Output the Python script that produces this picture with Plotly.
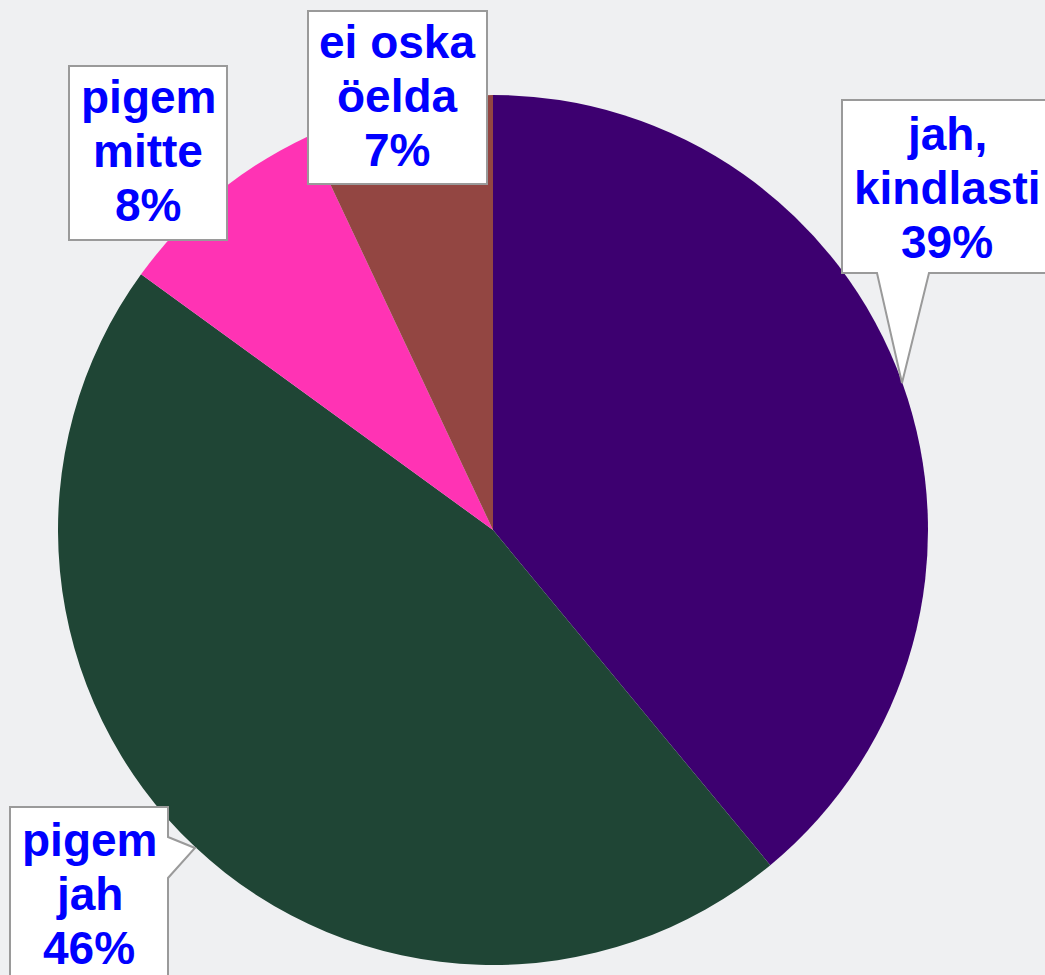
import plotly.graph_objects as go

# Data
categories = ["jah, kindlasti", "pigem jah", "pigem mitte", "ei oska öelda"]
values = [39, 46, 8, 7]
colors = ["#3D0070", "#1F4535", "#FF33B4", "#934642"]
label_lines = [["jah,", "kindlasti", "39%"],
               ["pigem", "jah", "46%"],
               ["pigem", "mitte", "8%"],
               ["ei oska", "öelda", "7%"]]

W, H = 1045, 975


def px(x):
    return x / W


def py(y):
    return 1 - y / H


fig = go.Figure()
fig.add_trace(go.Pie(
    labels=categories, values=values, sort=False, direction="clockwise",
    rotation=0, marker=dict(colors=colors, line=dict(width=0)),
    textinfo="none", hoverinfo="label+percent", showlegend=False,
    domain=dict(x=[58 / W, 928 / W], y=[py(965), py(95)]),
))

# Callout boxes (layout decoration, pixel positions converted to paper)
boxes = [
    # jah, kindlasti: box with pointer down to the slice
    [(842, 100), (1060, 100), (1060, 273), (929, 273), (902, 383), (877, 273), (842, 273)],
    # pigem jah: box with pointer to the right
    [(10, 807), (168, 807), (168, 837), (195, 848), (168, 878), (168, 990), (10, 990)],
    # pigem mitte
    [(69, 66), (227, 66), (227, 240), (69, 240)],
    # ei oska öelda
    [(308, 11), (487, 11), (487, 184), (308, 184)],
]
for pts in boxes:
    path = "M " + " L ".join(f"{px(x):.5f},{py(y):.5f}" for x, y in pts) + " Z"
    fig.add_shape(type="path", xref="paper", yref="paper", path=path,
                  fillcolor="white", line=dict(color="#9A9A9A", width=2), layer="above")

# Label text lines: (center x, first baseline y)
text_pos = [(947, 151), (89, 857), (148, 114), (397, 59)]
pitch = 54
fsize = 46
for (cx, by), lines in zip(text_pos, label_lines):
    for i, t in enumerate(lines):
        base = by + i * pitch
        fig.add_annotation(x=px(cx), y=py(base - 0.36 * fsize), xref="paper", yref="paper",
                           text=f"<b>{t}</b>", showarrow=False, xanchor="center", yanchor="middle",
                           font=dict(family="Liberation Sans, Arial", size=fsize, color="#0000FF"))

fig.update_layout(width=W, height=H, margin=dict(l=0, r=0, t=0, b=0),
                  paper_bgcolor="#EFF0F2", plot_bgcolor="#EFF0F2")
fig.write_html("out.html", config={"displayModeBar": False},
               post_script="document.body.style.margin='0';document.body.style.overflow='hidden';")
